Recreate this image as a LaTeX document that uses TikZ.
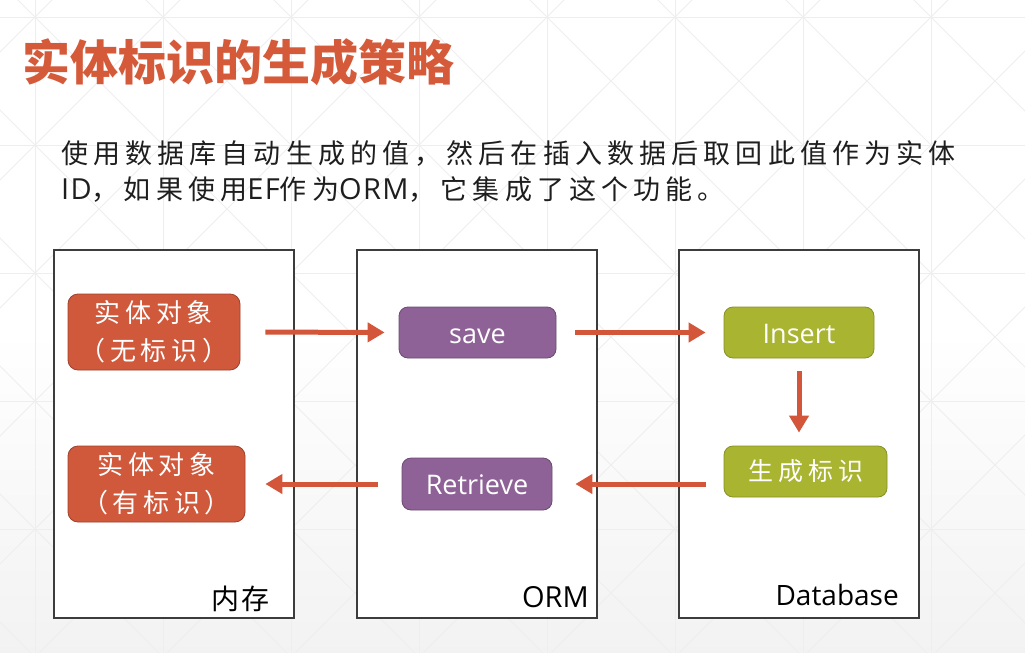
\documentclass[tikz,border=0pt]{standalone}
\usepackage{fontspec}
\setmainfont{Open Sans}
\newfontfamily\cjk{Noto Sans CJK SC}
\usetikzlibrary{arrows.meta,shadows}
\definecolor{titlered}{HTML}{D55A3A}
\definecolor{boxred}{HTML}{D0583B}
\definecolor{boxpurple}{HTML}{8F6297}
\definecolor{boxolive}{HTML}{A9B431}
\definecolor{arrowred}{HTML}{D3553A}
\definecolor{gridgray}{HTML}{EEEEEE}
\definecolor{framegray}{HTML}{3C3C3C}
\definecolor{bodytext}{HTML}{1E1E1E}
\newcommand{\bodycjk}{\fontsize{27}{37}\selectfont\cjk\addfontfeature{LetterSpace=19}}
\newcommand{\bodylat}{\fontsize{29}{37}\selectfont\addfontfeature{LetterSpace=5}}
\tikzset{
  bigbox/.style={draw=framegray, line width=1.1pt, fill=white, minimum width=240, minimum height=368,
    drop shadow={shadow xshift=1.2pt, shadow yshift=-1.2pt, fill=black, opacity=0.35}},
  redbox/.style={draw=boxred!75!black, line width=0.8pt, fill=boxred, rounded corners=10pt, text=white, align=center, inner sep=0pt,
    font={\fontsize{26}{38}\selectfont\cjk\addfontfeature{LetterSpace=18}}},
  purplebox/.style={draw=boxpurple!75!black, line width=0.8pt, fill=boxpurple, rounded corners=9pt, text=white, inner sep=0pt,
    text height=25pt, text depth=4pt, font={\fontsize{27}{30}\selectfont}},
  olivebox/.style={draw=boxolive!80!black, line width=0.8pt, fill=boxolive, rounded corners=9pt, text=white, inner sep=0pt},
  flow/.style={draw=arrowred, line width=5pt, -{Triangle[length=17pt,width=19pt]}},
  boxlabel/.style={anchor=base east, text=black, inner sep=0pt},
}
\begin{document}
\begin{tikzpicture}[x=1pt,y=-1pt]
\useasboundingbox (0,0) rectangle (1025,653);
% background
\fill[white] (0,0) rectangle (1025,653);
\fill[top color=white, bottom color=black!5] (0,330) rectangle (1025,653);
\begin{scope}
\clip (0,0) rectangle (1025,653);
\foreach \x in {35,163,...,1025} \draw[gridgray, line width=0.8pt] (\x,0) -- (\x,653);
\foreach \y in {17,145,...,653} \draw[gridgray, line width=0.8pt] (0,\y) -- (1025,\y);
\foreach \k in {-6,...,8} \draw[gridgray, line width=0.8pt] ({18+128*\k},0) -- ({18+128*\k+653},653);
\foreach \k in {0,...,13} \draw[gridgray, line width=0.8pt] ({52+128*\k},0) -- ({52+128*\k-653},653);
\end{scope}

% title
\node[anchor=west, inner sep=0pt, text=titlered] (title) at (22,62)
  {\fontsize{48}{50}\selectfont\cjk\bfseries 实体标识的生成策略};

% paragraph
\node[anchor=west, inner sep=0pt, text=bodytext] (p1) at (61,153)
  {\bodycjk 使用数据库自动生成的值，然后在插入数据后取回此值作为实体};
\node[anchor=west, inner sep=0pt, text=bodytext] (p2) at (61,190)
  {{\bodylat ID}{\bodycjk ，如果使用}{\bodylat EF}{\bodycjk 作为}{\bodylat ORM}{\bodycjk ，它集成了这个功能。}};

% big boxes
\node[bigbox] (mem) at (174,434) {};
\node[bigbox] (orm) at (477,434) {};
\node[bigbox] (db)  at (799,434) {};

\node[boxlabel] (memlabel) at (270,609) {\fontsize{28}{30}\selectfont\cjk\addfontfeature{LetterSpace=7}内存};
\node[boxlabel] (ormlabel) at (589,607) {\fontsize{29}{30}\selectfont ORM};
\node[boxlabel] (dblabel)  at (899,605) {\fontsize{28}{30}\selectfont Database};

% inner nodes
\node[redbox, minimum width=172, minimum height=76] (e1) at (154,332) {实体对象\\（无标识）};
\node[redbox, minimum width=177, minimum height=76] (e2) at (156.5,484) {实体对象\\（有标识）};
\node[purplebox, minimum width=157, minimum height=51] (save) at (477.5,332.5) {save};
\node[purplebox, minimum width=150, minimum height=52] (retr) at (477,484) {Retrieve};
\node[olivebox, minimum width=150, minimum height=51, text height=25pt, text depth=4pt] (ins) at (799,332.5)
  {\fontsize{27}{30}\selectfont Insert};
\node[olivebox, minimum width=163, minimum height=51] (gen) at (805.5,471.5)
  {\fontsize{25}{30}\selectfont\cjk\addfontfeature{LetterSpace=20}生成标识};

% arrows
\draw[flow, shorten <=25pt, shorten >=14pt] (e1.east) -- (save.west);
\draw[flow, shorten <=19pt, shorten >=18pt] (save.east) -- (ins.west);
\draw[flow, shorten <=13pt, shorten >=13pt] (ins.south) -- (ins.south |- gen.north);
\draw[flow, shorten <=18pt, shorten >=23pt] (gen.west |- retr.east) -- (retr.east);
\draw[flow, shorten <=24pt, shorten >=20pt] (retr.west) -- (retr.west -| e2.east);
\end{tikzpicture}
\end{document}
